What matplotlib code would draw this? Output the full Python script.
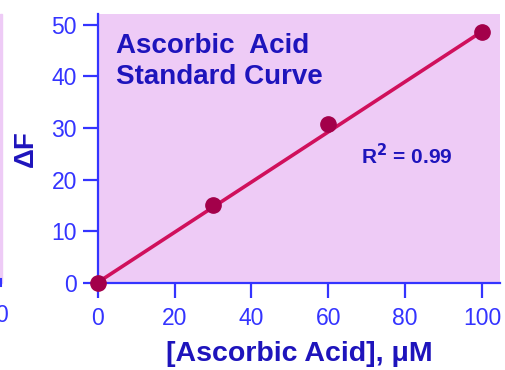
import numpy as np
import matplotlib.pyplot as plt
from matplotlib.patches import Rectangle
from matplotlib.lines import Line2D

# data
conc = [0, 30, 60, 100]          # [Ascorbic Acid], uM
delta_f = [0.0, 15.2, 30.7, 48.7]
fit_x = [0, 100]
fit_y = [0.1, 48.7]
xticks = [0, 20, 40, 60, 80, 100]
yticks = [0, 10, 20, 30, 40, 50]

plt.rcParams["font.family"] = ["Liberation Sans", "DejaVu Sans"]

bg = "#eecbf6"
axis_blue = "#3434ff"
label_blue = "#1e14bc"

fig = plt.figure(figsize=(5.06, 3.70), dpi=100)
ax = fig.add_axes([97.7 / 506, 1 - 283 / 370, (500 - 97.7) / 506, (283 - 14) / 370])
ax.set_facecolor(bg)

# leftover bit of the neighbouring panel at the left edge
fig.patches.append(Rectangle((0, 1 - 283 / 370), 2.2 / 506, 269 / 370,
                             transform=fig.transFigure, color=bg, zorder=0))
fig.lines.append(Line2D([1 / 506, 1 / 506], [1 - 279 / 370, 1 - 286 / 370],
                        transform=fig.transFigure, color=axis_blue, linewidth=1.5))
fig.text(1.5 / 506, 1 - 315 / 370, "0", color=axis_blue, fontsize=16.5,
         ha="center", va="center")

ax.plot(fit_x, fit_y, color="#d0105c", linewidth=2.6, zorder=2, clip_on=False)
ax.plot(conc, delta_f, "o", color="#a3004a", markersize=11, zorder=3, clip_on=False)

ax.set_xlim(0, 104.7)
ax.set_ylim(0, 52.1)
ax.set_xticks(xticks)
ax.set_yticks(yticks)

for side in ["top", "right"]:
    ax.spines[side].set_visible(False)
for side in ["left", "bottom"]:
    ax.spines[side].set_color(axis_blue)
    ax.spines[side].set_linewidth(1.6)

ax.tick_params(axis="both", colors=axis_blue, labelcolor=axis_blue, labelsize=16.5,
               length=11, width=1.6, direction="out")
ax.tick_params(axis="y", pad=4)
ax.tick_params(axis="x", pad=6)

ax.set_xlabel("[Ascorbic Acid], \u03bcM", color=label_blue, fontsize=20.5,
              fontweight="bold", labelpad=8)
ax.set_ylabel("\u0394F", color=label_blue, fontsize=20, fontweight="bold", labelpad=9)

ax.text(18.5 / 402.3, 1 - 19 / 269, "Ascorbic  Acid\nStandard Curve", transform=ax.transAxes,
        color=label_blue, fontsize=20, fontweight="bold", ha="left", va="top",
        linespacing=1.27)
ax.text(0.654, 0.475, "R$^\\mathbf{2}$ = 0.99", transform=ax.transAxes,
        color=label_blue, fontsize=15, fontweight="bold", ha="left", va="center")

fig.savefig("out.png", dpi=100)
